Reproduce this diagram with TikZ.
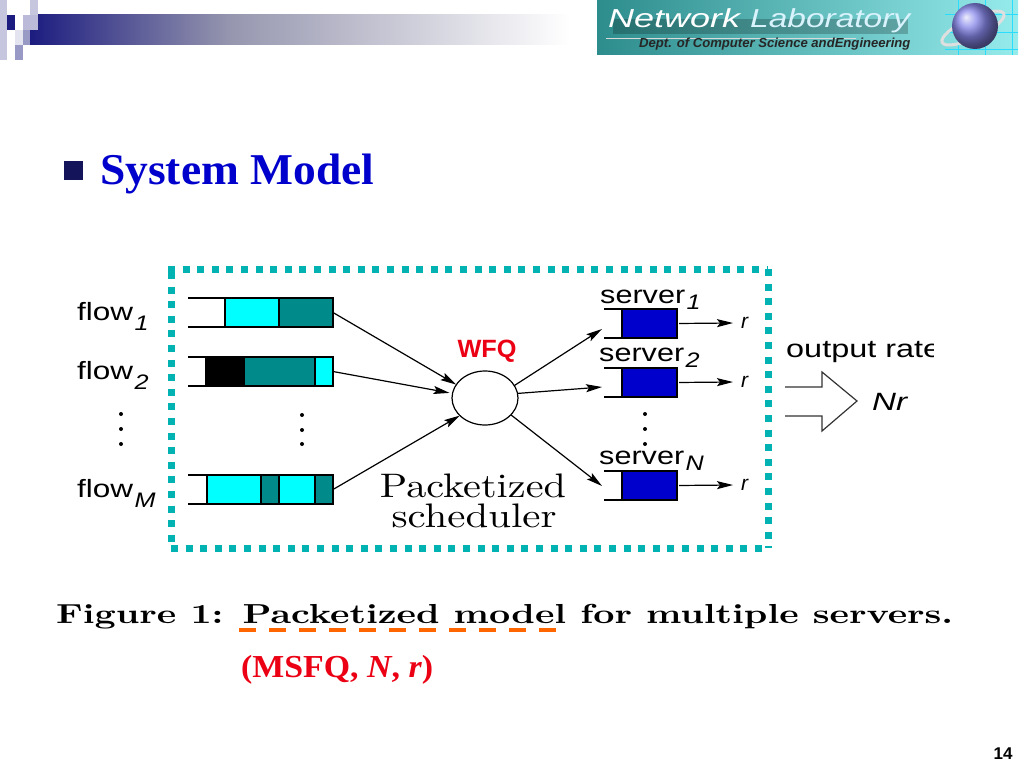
\documentclass[tikz,border=0pt]{standalone}
\usepackage{graphicx}
\usepackage{fontspec}
\newfontfamily\timesf{Liberation Serif}
\setsansfont{Liberation Sans}
\usetikzlibrary{arrows.meta,shadings,shapes.geometric}
\definecolor{tealq}{RGB}{0,138,138}
\definecolor{cyanq}{RGB}{0,255,255}
\definecolor{blueq}{RGB}{0,0,205}
\definecolor{frameq}{RGB}{0,178,178}
\definecolor{navyq}{RGB}{28,28,128}
\definecolor{titleq}{RGB}{0,0,204}
\definecolor{midq}{RGB}{150,150,175}
\definecolor{redq}{RGB}{235,0,20}
\definecolor{orangeq}{RGB}{255,102,0}
\tikzset{
 pkt/.style={draw=black,line width=1.2pt,anchor=north west,inner sep=0,outer sep=0,minimum height=29pt},
 rail/.style={draw=black,line width=1.2pt},
 arr/.style={draw=black,line width=1.2pt,-{Stealth[length=16pt,width=8pt,inset=3pt]}},
 lab/.style={font=\sffamily\fontsize{25}{25}\selectfont,inner sep=0,anchor=base west},
 rlab/.style={font=\sffamily\itshape\fontsize{21}{21}\selectfont,inner sep=0,anchor=base west},
 dotq/.style={circle,fill=black,inner sep=0,minimum size=4pt},
 frm/.style={draw=frameq,line width=7pt,dash pattern=on 7pt off 7.6pt},
 base/.style={inner sep=0,anchor=base west}
}
\newcommand{\wfit}[2]{\resizebox{#1pt}{\height}{#2}}
\newcommand{\lbl}[4]{\wfit{#1}{#2}\hspace{1.5pt}\raisebox{-#4pt}{\scalebox{1.2}[1]{\itshape\fontsize{21}{21}\selectfont #3}}}
\newcommand{\pktbox}[5]{\node[pkt,fill=#5,minimum width=#4pt] (#1) at (#2,#3) {};}
\begin{document}
\begin{tikzpicture}[x=1pt,y=-1pt]
\useasboundingbox (0,0) rectangle (1024,768);
\fill[white] (0,0) rectangle (1024,768);
% header band
\shade[left color=navyq,right color=midq] (30,15) rectangle (230,45);
\shade[left color=midq,right color=white] (230,15) rectangle (570,45);
\fill[navyq!25] (0,0) rectangle (7,60);
\fill[white] (15,15) rectangle (23,30);
\fill[navyq!25] (30,0) rectangle (38,30);
\fill[navyq!30] (23,15) rectangle (38,30);
\fill[navyq!12] (15,30) rectangle (30,45);
\fill[navyq!45] (23,30) rectangle (30,45);
\fill[navyq!45] (15,45) rectangle (23,60);
\fill[navyq] (7,15) rectangle (15,30);
% logo
\shade[left color={rgb,255:red,45;green,140;blue,140},right color={rgb,255:red,150;green,235;blue,235}] (597,0) rectangle (1018,55);
\draw[white!55!blue!30!cyan,line width=1pt] (958,0) -- (958,55) (985,0) -- (985,55) (1012,0) -- (1012,55) (945,15) -- (1018,15) (945,33) -- (1018,33) (945,50) -- (1018,50);
\draw[white!75!gray,line width=3pt,rotate around={25:(973,28)}] (973,28) ellipse (34 and 10);
\shade[ball color={rgb,255:red,135;green,135;blue,235}] (975,26) circle (23);
\fill[black,opacity=.22] (613,19) rectangle (908,34);
\node[base,font=\sffamily\itshape\fontsize{26}{26}\selectfont,text=white] (nl) at (608,28) {\wfit{132}{Network}};
\node[base,font=\sffamily\itshape\fontsize{26}{26}\selectfont,text=white!85!cyan] (la) at (750,28) {\wfit{160}{Laboratory}};
\draw[white!70!gray,line width=.7pt] (606,38) -- (856,38);
\node[base,font=\sffamily\bfseries\itshape\fontsize{13.1}{14}\selectfont,text=black!85] (dept) at (639,48) {Dept. of Computer Science andEngineering};
% title
\fill[navyq!70!black] (64,161) rectangle (83,180);
\node[base,font=\timesf\bfseries\fontsize{44}{44}\selectfont,text=titleq] (title) at (100,184) {\wfit{274}{System Model}};
% frame
\draw[frm] (168,269) -- (768,269);
\draw[frm] (768,269) -- (768,548);
\draw[frm] (171,548) -- (768,548);
\draw[frm] (171,272) -- (171,548);
% queues
\draw[rail] (188,298) -- (279,298) (188,327) -- (279,327);
\pktbox{q1a}{225}{298}{54}{cyanq}
\pktbox{q1b}{279}{298}{54}{tealq}
\draw[rail] (188,357) -- (262,357) (188,386) -- (262,386);
\pktbox{q2a}{206}{357}{38}{black}
\pktbox{q2b}{244}{357}{71}{tealq}
\pktbox{q2c}{315}{357}{18}{cyanq}
\draw[rail] (188,475) -- (262,475) (188,504) -- (262,504);
\pktbox{q3a}{207}{475}{54}{cyanq}
\pktbox{q3b}{261}{475}{18}{tealq}
\pktbox{q3c}{279}{475}{36}{cyanq}
\pktbox{q3d}{315}{475}{18}{tealq}
% scheduler
\node[draw=black,line width=1.2pt,ellipse,minimum width=66pt,minimum height=54pt,inner sep=0,outer sep=0] (wfq) at (485,398) {};
\draw[arr] (q1b.east) -- (wfq.155);
\draw[arr,shorten >=3pt] (q2c.east) -- (wfq.172);
\draw[arr] (q3d.east) -- (wfq.215);
\node[inner sep=0,anchor=base,font=\sffamily\bfseries\fontsize{25}{25}\selectfont,text=redq] (wfqt) at (487,357) {\wfit{59}{WFQ}};
% servers
\foreach \n/\y in {s1/309,s2/368,s3/471}{
  \draw[rail] (604,\y) -- (622,\y) (604,\y+29) -- (622,\y+29);
  \node[pkt,fill=blueq,minimum width=55pt] (\n) at (622,\y) {};
}
\coordinate (e1) at (733,323);
\coordinate (e2) at (733,382);
\coordinate (e3) at (733,485);
\draw[arr,shorten <=2pt] (s1.east) -- (e1);
\draw[arr,shorten <=2pt] (s2.east) -- (e2);
\draw[arr,shorten <=2pt] (s3.east) -- (e3);
\coordinate (to1) at (602,329);
\coordinate (to2) at (602,387);
\coordinate (to3) at (602,486);
\draw[arr] (wfq.23) -- (to1);
\draw[arr] (wfq.8) -- (to2);
\draw[arr] (wfq.-33) -- (to3);
\node[rlab] (r1) at (741,328) {r};
\node[rlab] (r2) at (741,387) {r};
\node[rlab] (r3) at (741,490) {r};
\node[lab] (sv1) at (600,303) {\lbl{85}{server}{1}{6}};
\node[lab] (sv2) at (599,361) {\lbl{85}{server}{2}{6}};
\node[lab] (sv3) at (599,464) {\lbl{85}{server}{N}{6}};
% flow labels
\node[lab] (f1) at (77,320) {\lbl{56}{flow}{1}{10}};
\node[lab] (f2) at (77,379) {\lbl{56}{flow}{2}{10}};
\node[lab] (f3) at (77,497) {\lbl{56}{flow}{M}{10}};
% dots
\foreach \n/\x/\y in {a/121/414,b/121/429,c/121/444,d/302/415,e/302/430,f/302/444,g/645/414,h/645/429,i/645/444}{
  \node[dotq] (d\n) at (\x,\y) {};
}
% packetized
\node[inner sep=0,anchor=base,font=\fontsize{10}{10}\selectfont,text=black] (pk) at (473,497) {\resizebox{186pt}{3.4\height}{Packetized}};
\node[inner sep=0,anchor=base,font=\fontsize{10}{10}\selectfont,text=black] (sc) at (474,527) {\resizebox{165pt}{3.4\height}{scheduler}};
% output
\node[lab] (or) at (786,357) {\wfit{155}{output rate}};
\fill[white] (934,330) rectangle (960,365);
\draw[black!80,line width=1.2pt] (785,387) -- (822,387) -- (822,372) -- (857,401) -- (822,431) -- (822,416) -- (785,416);
\node[base,font=\sffamily\itshape\fontsize{25}{25}\selectfont] (nr) at (872,410) {\wfit{35}{Nr}};
% caption
\node[base,font=\bfseries\fontsize{10}{10}\selectfont] (cap) at (56,623) {\resizebox{897pt}{2.75\height}{Figure 1:\hspace{5.2pt}Packetized model for multiple servers.}};
\draw[draw=orangeq,line width=4pt,dash pattern=on 17pt off 13pt] (239,630) -- (556,630);
\node[base,font=\timesf\bfseries\fontsize{32}{32}\selectfont,text=redq] (msfq) at (241,677) {\wfit{192}{(MSFQ, \textit{N}, \textit{r})}};
\node[inner sep=0,anchor=base,font=\sffamily\bfseries\fontsize{17}{17}\selectfont] (pg) at (1003,759) {14};
\end{tikzpicture}
\end{document}
